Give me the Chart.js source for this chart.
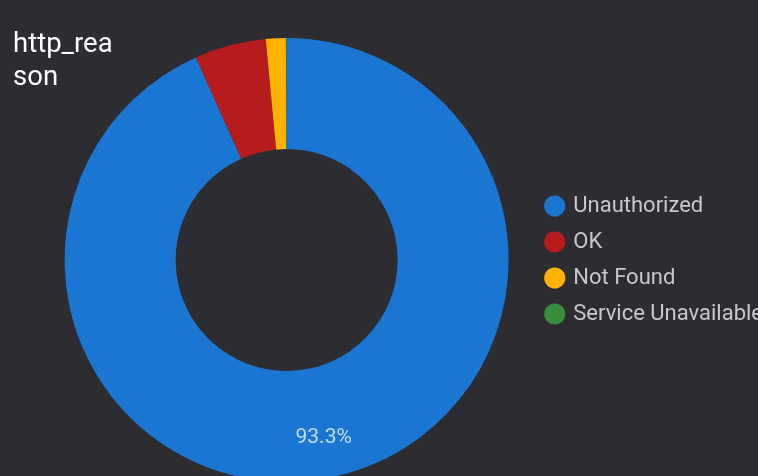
<!DOCTYPE html>
<html>
<head>
<meta charset="utf-8">
<script src="https://cdn.jsdelivr.net/npm/chart.js@4"></script>
<style>
  html, body { margin: 0; padding: 0; background: #2d2c31; overflow: hidden; }
  #wrap { position: relative; width: 758px; height: 476px; overflow: hidden; background: #2d2c31; }
  #box { position: absolute; left: 0; top: 0; width: 773px; height: 482px; }
  #title { position: absolute; left: 13px; top: 26px; width: 108px; word-break: break-all;
           font-family: Roboto, sans-serif; font-size: 27.5px; line-height: 33px; color: #ffffff; }
</style>
</head>
<body>
<div id="wrap">
  <div id="box"><canvas id="c" width="773" height="482"></canvas></div>
  <div id="title">http_reason</div>
</div>
<script>
const categories = ["Unauthorized", "OK", "Not Found", "Service Unavailable"];
const values = [93.3, 5.2, 1.45, 0.05];
const colors = ["#1976d2", "#b71c1c", "#ffb300", "#388e3c"];

const pctLabels = {
  id: 'pctLabels',
  afterDatasetsDraw(chart) {
    const ctx = chart.ctx;
    const meta = chart.getDatasetMeta(0);
    const total = values.reduce((a, b) => a + b, 0);
    ctx.save();
    ctx.font = '21px Roboto, sans-serif';
    ctx.fillStyle = 'rgba(225,235,250,0.85)';
    ctx.textAlign = 'center';
    ctx.textBaseline = 'middle';
    meta.data.forEach((arc, i) => {
      const pct = values[i] / total * 100;
      if (pct < 10) return;
      const p = arc.getProps(['x', 'y', 'startAngle', 'endAngle', 'innerRadius', 'outerRadius'], true);
      const mid = (p.startAngle + p.endAngle) / 2;
      const r = p.innerRadius + (p.outerRadius - p.innerRadius) * 0.64;
      ctx.fillText(pct.toFixed(1) + '%', p.x + Math.cos(mid) * r - 1, p.y + Math.sin(mid) * r);
    });
    ctx.restore();
  }
};

new Chart(document.getElementById('c'), {
  type: 'doughnut',
  data: {
    labels: categories,
    datasets: [{ data: values, backgroundColor: colors, borderWidth: 0 }]
  },
  options: {
    responsive: false,
    animation: false,
    cutout: '50%',
    layout: { padding: { top: 38, left: 40, right: 0, bottom: 0 } },
    plugins: {
      tooltip: { enabled: false },
      legend: {
        position: 'right',
        labels: {
          usePointStyle: true,
          pointStyle: 'circle',
          boxWidth: 15,
          boxHeight: 15,
          padding: 14,
          color: '#c7c7cf',
          font: { family: 'Roboto, sans-serif', size: 22 }
        }
      }
    }
  },
  plugins: [pctLabels]
});
</script>
</body>
</html>
